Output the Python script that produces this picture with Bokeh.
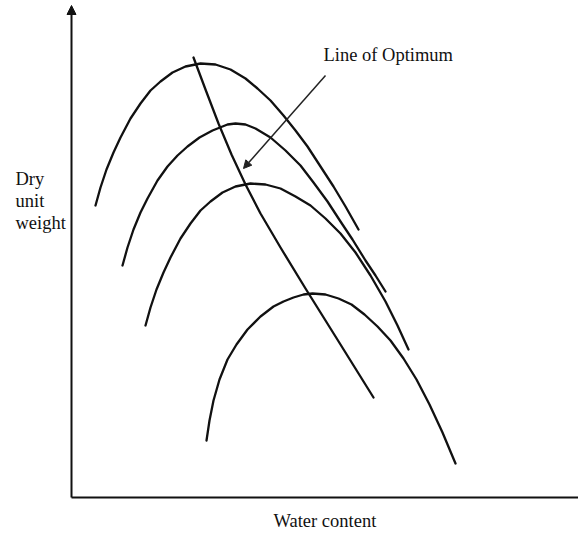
from bokeh.plotting import figure
from bokeh.models import Range1d, Label, Arrow, NormalHead
from bokeh.embed import file_html
from bokeh.resources import INLINE

# Water content and dry unit weight (arbitrary units)
c1_w = [2.4, 2.9, 3.5, 4.2, 4.9, 5.9, 6.9, 7.9, 8.9, 10.1, 11.4, 12.9, 14.4, 15.9, 17.4, 18.6, 19.9, 21.2, 22.4, 23.6, 24.9, 26.2, 27.4, 28.7]
c1_g = [29.2, 31.0, 32.8, 34.5, 36.0, 37.9, 39.4, 40.7, 41.6, 42.5, 43.1, 43.4, 43.3, 42.8, 41.9, 40.9, 39.7, 38.2, 36.7, 35.1, 33.1, 31.1, 29.1, 26.8]

c2_w = [5.1, 5.6, 6.2, 6.9, 7.6, 8.6, 9.6, 10.6, 11.6, 12.8, 14.1, 15.6, 16.4, 17.4, 18.4, 19.9, 21.4, 22.9, 24.2, 25.6, 26.9, 28.1, 29.4, 30.4, 31.4]
c2_g = [23.2, 25.0, 26.8, 28.5, 29.9, 31.7, 33.1, 34.2, 35.1, 36.0, 36.7, 37.3, 37.4, 37.3, 36.9, 36.0, 34.7, 33.2, 31.5, 29.6, 27.6, 25.8, 23.7, 22.2, 20.6]

c3_w = [7.4, 7.9, 8.5, 9.2, 9.9, 10.9, 11.9, 12.9, 13.9, 15.1, 16.4, 17.9, 19.4, 20.9, 22.4, 23.9, 25.4, 26.9, 28.4, 29.9, 31.4, 32.6, 33.7]
c3_g = [17.2, 19.0, 20.8, 22.5, 24.0, 25.9, 27.4, 28.7, 29.6, 30.5, 31.1, 31.4, 31.3, 30.9, 30.1, 29.2, 27.9, 26.4, 24.5, 22.2, 19.6, 17.2, 14.8]

c4_w = [13.5, 13.8, 14.2, 14.8, 15.6, 16.5, 17.6, 18.9, 20.2, 21.2, 22.2, 23.2, 24.1, 25.4, 26.7, 28.0, 29.3, 30.6, 31.9, 33.2, 34.5, 35.8, 37.1, 38.4]
c4_g = [5.7, 7.7, 9.7, 11.8, 13.8, 15.3, 16.8, 18.1, 19.1, 19.6, 20.0, 20.3, 20.4, 20.3, 19.9, 19.3, 18.3, 17.1, 15.7, 13.9, 11.8, 9.3, 6.5, 3.4]

opt_w = [12.2, 13.4, 14.7, 16.0, 17.4, 18.9, 20.9, 23.4, 26.4, 30.2]
opt_g = [44.0, 40.8, 37.4, 34.3, 31.3, 28.4, 25.0, 20.9, 16.1, 10.0]

# Pointer from the annotation text to the line of optimum
pointer_w = [25.4, 17.2]
pointer_g = [42.2, 32.9]

x_label = "Water content"
y_label_lines = ["Dry", "unit", "weight"]
y_label_g = [31.9, 29.7, 27.5]
opt_label = "Line of Optimum"

FONT = "Liberation Serif"
INK = "#111111"

p = figure(width=578, height=535, output_backend="svg", toolbar_location=None,
           x_range=Range1d(-7.1, 50.7), y_range=Range1d(-3.8, 49.7),
           min_border=0)
p.background_fill_color = "white"
p.border_fill_color = "white"
p.outline_line_color = None
p.grid.visible = False
p.axis.visible = False

# axes drawn at the data origin
p.add_layout(Arrow(end=NormalHead(size=9, fill_color=INK, line_color=INK),
                   x_start=0, y_start=0, x_end=0, y_end=49.2,
                   line_width=2, line_color=INK))
p.add_layout(Arrow(end=None, x_start=0, y_start=0, x_end=50.7, y_end=0,
                   line_width=2, line_color=INK))

for xs, ys in ((c1_w, c1_g), (c2_w, c2_g), (c3_w, c3_g), (c4_w, c4_g)):
    p.line(xs, ys, line_width=2.3, line_color=INK, line_join="round", line_cap="round")

p.line(opt_w, opt_g, line_width=2.3, line_color=INK, line_join="round", line_cap="round")

p.add_layout(Arrow(end=NormalHead(size=8, fill_color="#222222", line_color="#222222"),
                   x_start=pointer_w[0], y_start=pointer_g[0],
                   x_end=pointer_w[1], y_end=pointer_g[1],
                   line_width=1.5, line_color="#222222"))

p.add_layout(Label(x=25.2, y=44.3, text=opt_label, text_font=FONT, text_font_size="18.5px",
                   text_baseline="middle", text_color=INK))

for txt, yy in zip(y_label_lines, y_label_g):
    p.add_layout(Label(x=-5.6, y=yy, text=txt, text_font=FONT, text_font_size="18.5px",
                       text_baseline="middle", text_color=INK))

p.add_layout(Label(x=20.2, y=-2.3, text=x_label, text_font=FONT, text_font_size="18.5px",
                   text_baseline="middle", text_color=INK))

open("out.html", "w").write(file_html(p, INLINE))
